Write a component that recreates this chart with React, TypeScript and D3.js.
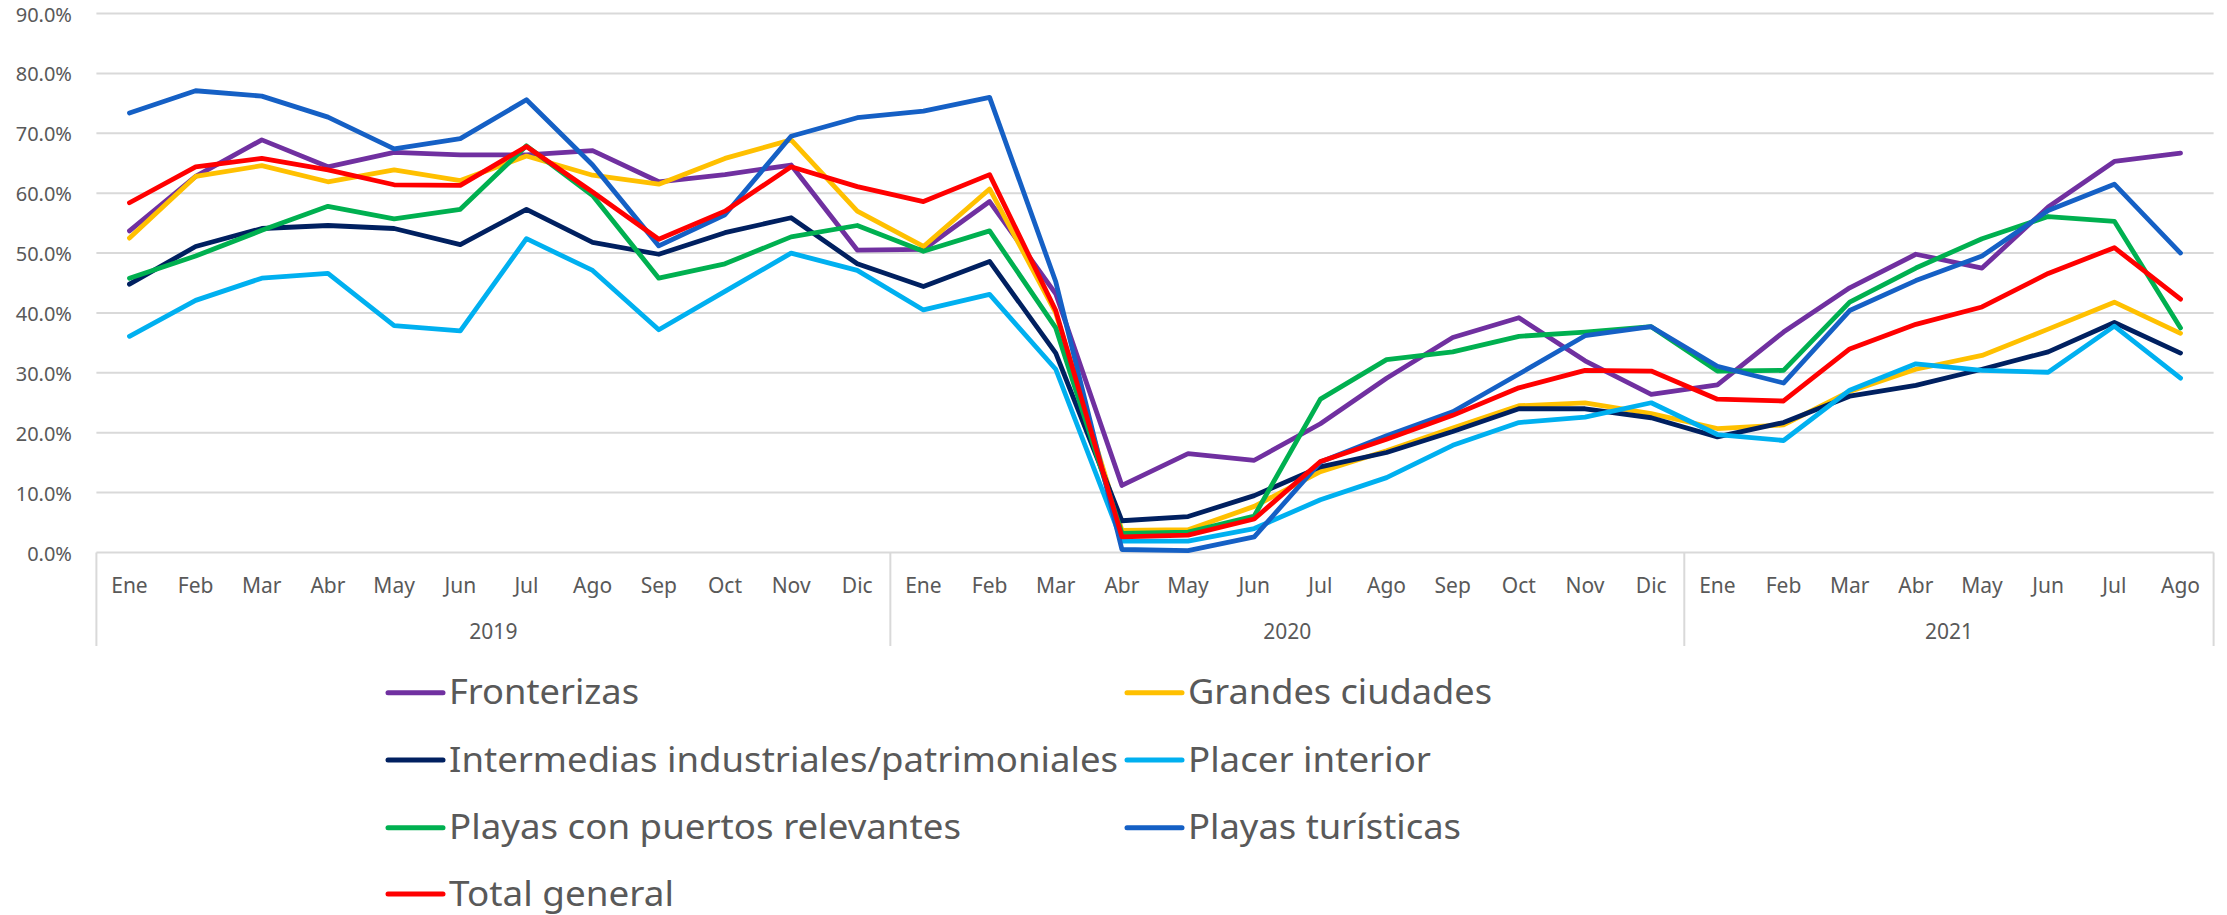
import React from "react";
import * as d3 from "d3";

const months = ["Ene","Feb","Mar","Abr","May","Jun","Jul","Ago","Sep","Oct","Nov","Dic"];
const years = ["2019", "2020", "2021"];
const monthsPerYear = [12, 12, 8];
const yTicks = [0, 0.1, 0.2, 0.3, 0.4, 0.5, 0.6, 0.7, 0.8, 0.9];

const fronterizas = [53.7,62.8,68.9,64.4,66.8,66.4,66.4,67.1,61.9,63.1,64.7,50.5, 50.6,58.6,43.2,11.2,16.5,15.4,21.5,29.1,35.9,39.2,32.0,26.4, 28.0,36.8,44.2,49.8,47.5,57.7,65.3,66.7];
const grandesCiudades = [52.5,62.8,64.6,61.9,63.9,62.1,66.2,63.0,61.5,65.8,68.9,57.0, 51.1,60.7,40.0,3.7,3.8,7.7,13.5,17.0,20.8,24.5,25.0,23.2, 20.7,21.3,26.9,30.6,32.9,37.3,41.8,36.6];
const intermedias = [44.8,51.1,54.1,54.6,54.1,51.4,57.3,51.8,49.8,53.4,55.9,48.2, 44.4,48.6,33.3,5.3,6.0,9.5,14.3,16.7,20.2,24.0,24.0,22.5, 19.3,21.7,26.1,27.9,30.6,33.5,38.4,33.3];
const placerInterior = [36.1,42.1,45.8,46.6,37.9,37.0,52.4,47.1,37.2,43.6,50.0,47.1, 40.5,43.1,30.6,1.9,1.9,4.0,8.8,12.5,17.9,21.7,22.6,25.0, 19.7,18.7,27.1,31.5,30.4,30.1,37.8,29.1];
const playasPuertos = [45.8,49.5,53.8,57.8,55.7,57.3,67.9,59.6,45.8,48.2,52.7,54.6, 50.3,53.7,37.5,3.2,3.4,6.1,25.6,32.2,33.5,36.1,36.8,37.7, 30.3,30.4,41.8,47.5,52.4,56.1,55.3,37.5];
const playasTuristicas = [73.4,77.1,76.2,72.7,67.4,69.1,75.6,64.7,51.2,56.4,69.5,72.6, 73.7,76.0,45.2,0.5,0.3,2.6,15.1,19.5,23.5,29.8,36.2,37.7, 31.1,28.3,40.4,45.4,49.5,57.1,61.5,50.0];
const totalGeneral = [58.4,64.4,65.8,63.9,61.4,61.3,67.8,60.2,52.3,57.0,64.4,61.1, 58.6,63.1,40.4,2.6,2.9,5.6,15.2,18.9,22.9,27.5,30.4,30.3, 25.6,25.3,34.0,38.1,41.0,46.6,50.9,42.3];

const seriesNames = ["Fronterizas","Grandes ciudades","Intermedias industriales/patrimoniales","Placer interior","Playas con puertos relevantes","Playas turísticas","Total general"];
const seriesValues = [fronterizas, grandesCiudades, intermedias, placerInterior, playasPuertos, playasTuristicas, totalGeneral];
const seriesColors = ["#7030A0","#FFC000","#002060","#00B0F0","#00B050","#1560C5","#FF0000"];
const legendWidths = [190, 304, 669, 243, 512, 273, 225];

const W = 2227, H = 915;
const left = 96.4, right = 2213.6, top = 13.5, bottom = 552.5;
const font = "'Noto Sans', 'Open Sans', sans-serif";
const textColor = "#595959";
const gridColor = "#d9d9d9";

export default function App() {
  const categories: { key: number; month: string; year: string }[] = [];
  years.forEach((yr, yi) => {
    for (let m = 0; m < monthsPerYear[yi]; m++) categories.push({ key: categories.length, month: months[m], year: yr });
  });
  const x = d3.scaleBand<number>().domain(categories.map(c => c.key)).range([left, right]).padding(0);
  const y = d3.scaleLinear().domain([0, 0.9]).range([bottom, top]);
  const cx = (i: number) => (x(i) as number) + x.bandwidth() / 2;
  const line = d3.line<number>().x((_, i) => cx(i)).y(v => y(v / 100));

  const bounds: number[] = [left];
  let acc = 0;
  monthsPerYear.forEach(n => { acc += n; bounds.push(acc < categories.length ? (x(acc) as number) : right); });

  const legendCols = [388, 1127];
  const legendRows = [692.7, 760, 827.7, 894];

  return (
    <svg width={W} height={H} style={{ position: "absolute", left: 0, top: 0, display: "block", background: "#fff" }}>
      {yTicks.map(t => (
        <g key={t}>
          <line x1={left} x2={right} y1={y(t)} y2={y(t)} stroke={gridColor} strokeWidth={2} />
          <text x={72} y={y(t) + 8} textAnchor="end" fontFamily={font} fontSize={20} fill={textColor}>
            {(t * 100).toFixed(1) + "%"}
          </text>
        </g>
      ))}
      {bounds.map((b, i) => (
        <line key={i} x1={b} x2={b} y1={bottom} y2={646} stroke={gridColor} strokeWidth={2} />
      ))}
      {categories.map(c => (
        <text key={c.key} x={cx(c.key)} y={593} textAnchor="middle" fontFamily={font} fontSize={21} fill={textColor}>
          {c.month}
        </text>
      ))}
      {years.map((yr, i) => (
        <text key={yr} x={(bounds[i] + bounds[i + 1]) / 2} y={639} textAnchor="middle" fontFamily={font} fontSize={21} fill={textColor}>
          {yr}
        </text>
      ))}
      {seriesValues.map((vals, i) => (
        <path key={i} d={line(vals) || ""} fill="none" stroke={seriesColors[i]} strokeWidth={4.8} strokeLinejoin="round" strokeLinecap="round" />
      ))}
      {seriesNames.map((name, i) => {
        const lx = legendCols[i % 2];
        const ly = legendRows[Math.floor(i / 2)];
        return (
          <g key={name}>
            <line x1={lx} x2={lx + 55} y1={ly} y2={ly} stroke={seriesColors[i]} strokeWidth={5} strokeLinecap="round" />
            <text x={lx + 61} y={ly + 11.5} fontFamily={font} fontSize={35} fill={textColor}
              textLength={legendWidths[i]} lengthAdjust="spacingAndGlyphs">
              {name}
            </text>
          </g>
        );
      })}
    </svg>
  );
}
